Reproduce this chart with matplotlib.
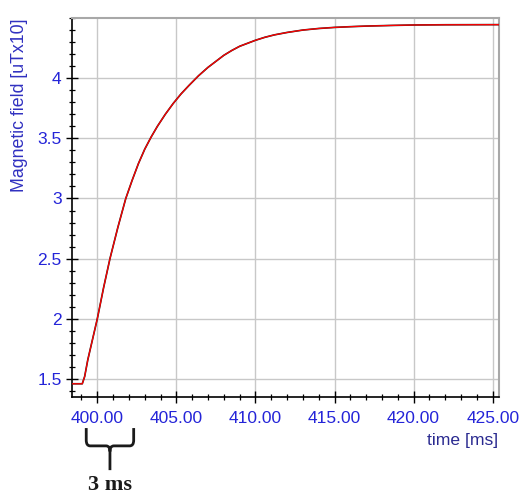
import matplotlib
matplotlib.use("Agg")
import matplotlib.pyplot as plt
from matplotlib.path import Path
from matplotlib.patches import PathPatch
from matplotlib.ticker import MultipleLocator, FixedLocator, FormatStrFormatter
import matplotlib.transforms as mtransforms

# time [ms] and field [uT x10]
time_ms = [398.4, 398.8, 399.05, 399.2, 399.4, 399.7, 400.0, 400.4, 400.8,
           401.3, 401.8, 402.2, 402.6, 403.0, 403.4, 403.8, 404.3, 404.8,
           405.3, 405.8, 406.4, 407.0, 407.5, 408.0, 408.5, 409.0, 409.5,
           410.0, 410.6, 411.2, 412.0, 413.0, 414.0, 415.0, 416.0, 417.0,
           418.5, 420.0, 422.0, 425.4]
field = [1.46, 1.46, 1.46, 1.52, 1.66, 1.83, 2.00, 2.26, 2.50,
         2.76, 3.00, 3.15, 3.29, 3.41, 3.51, 3.60, 3.70, 3.79,
         3.87, 3.94, 4.02, 4.09, 4.14, 4.19, 4.23, 4.265, 4.29,
         4.315, 4.34, 4.36, 4.38, 4.40, 4.413, 4.422, 4.428, 4.433,
         4.438, 4.442, 4.444, 4.445]

# y tick values shown on the axis
y_ticks = [1.5, 2.0, 2.5, 3.0, 3.5, 4.0]

# the "3 ms" span marked below the axis
span_start, span_end = 399.3, 402.3

TICK_BLUE = "#2424d8"
LABEL_BLUE = "#3030c0"
NAVY = "#2a2a90"

fig = plt.figure(figsize=(5.21, 4.95), dpi=100)
ax = fig.add_axes([0.1382, 0.198, 0.8196, 0.7656])

ax.plot(time_ms, field, color="#202020", lw=1.2, zorder=3)
ax.plot(time_ms, field, color="red", lw=0.9, zorder=4)

ax.set_xlim(398.4, 425.4)
ax.set_ylim(1.35, 4.5)

ax.xaxis.set_major_locator(MultipleLocator(5))
ax.xaxis.set_minor_locator(MultipleLocator(1))
ax.yaxis.set_major_locator(FixedLocator(y_ticks))
ax.yaxis.set_minor_locator(MultipleLocator(0.1))
ax.xaxis.set_major_formatter(FormatStrFormatter("%.2f"))
ax.yaxis.set_major_formatter(FormatStrFormatter("%g"))

ax.grid(True, which="major", color="#c8c8c8", lw=1.0, zorder=0)
ax.tick_params(axis="x", which="major", pad=6)
ax.tick_params(which="major", direction="inout", length=8, width=1.0,
               colors="black", labelcolor=TICK_BLUE, labelsize=12.5)
ax.tick_params(which="minor", direction="inout", length=5, width=0.9,
               colors="black")
for lab in ax.get_xticklabels() + ax.get_yticklabels():
    lab.set_family("Liberation Sans")

for side in ["top", "right"]:
    ax.spines[side].set_color("#a8a8a8")
    ax.spines[side].set_linewidth(1.5)
for side in ["left", "bottom"]:
    ax.spines[side].set_color("black")
    ax.spines[side].set_linewidth(1.2)

fig.text(0.038, 0.962, "Magnetic field [uTx10]", rotation=90,
         ha="center", va="top", color=LABEL_BLUE, fontsize=12.8,
         family="Liberation Sans")
fig.text(0.957, 0.110, "time [ms]", ha="right", va="center", color=NAVY,
         fontsize=12.6, family="Liberation Sans")

# curly brace under the axis, x in data units, y in axes fraction
trans = mtransforms.blended_transform_factory(ax.transData, ax.transAxes)
x1, x2 = span_start, span_end
xc = (x1 + x2) / 2
y_top, y_mid, y_tip = -0.082, -0.129, -0.193
r = 0.25
dy = 0.015
verts = [(x1, y_top), (x1, y_mid + dy), (x1, y_mid), (x1 + r, y_mid),
         (xc - r, y_mid), (xc, y_mid), (xc, y_mid - dy), (xc, y_tip),
         (xc, y_mid - dy), (xc, y_mid), (xc + r, y_mid),
         (x2 - r, y_mid), (x2, y_mid), (x2, y_mid + dy), (x2, y_top)]
codes = [Path.MOVETO, Path.LINETO, Path.CURVE3, Path.CURVE3,
         Path.LINETO, Path.CURVE3, Path.CURVE3, Path.LINETO,
         Path.MOVETO, Path.CURVE3, Path.CURVE3,
         Path.LINETO, Path.CURVE3, Path.CURVE3, Path.LINETO]
brace = PathPatch(Path(verts, codes), transform=trans, fill=False,
                  edgecolor="#1a1a1a", lw=2.0, clip_on=False)
ax.add_patch(brace)

ax.text(xc, -0.205, "3 ms", transform=trans, ha="center", va="top",
        fontsize=16, fontweight="bold", family="Liberation Serif",
        color="#1a1a1a", clip_on=False)

fig.savefig("out.png", dpi=100)
